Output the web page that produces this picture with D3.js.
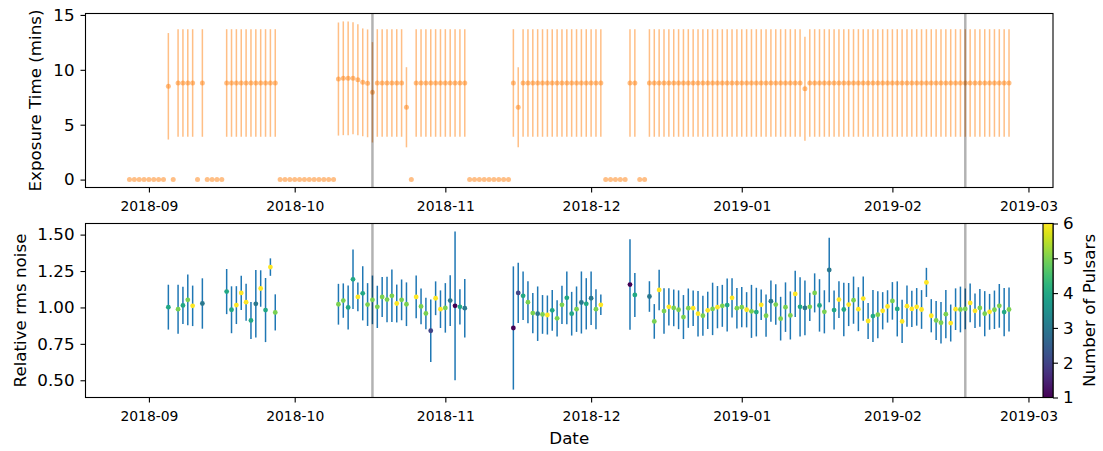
<!DOCTYPE html>
<html>
<head>
<meta charset="utf-8">
<script src="https://cdn.jsdelivr.net/npm/d3@7"></script>
<style>
  body { margin: 0; background: #fff; }
  svg { display: block; }
  text { font-family: "DejaVu Sans", sans-serif; fill: #000; }
</style>
</head>
<body>
<svg id="chart" width="1103" height="451"></svg>
<script>
// ---- Exposure log: one entry per day (minutes, with spread) ----
const expDates = [
  "2018-08-28","2018-08-29","2018-08-30","2018-08-31",
  "2018-09-01","2018-09-02","2018-09-03","2018-09-04","2018-09-05","2018-09-06","2018-09-07","2018-09-08","2018-09-09","2018-09-10",
  "2018-09-11","2018-09-12","2018-09-13","2018-09-14","2018-09-15","2018-09-16","2018-09-17","2018-09-18","2018-09-19","2018-09-20",
  "2018-09-21","2018-09-22","2018-09-23","2018-09-24","2018-09-25","2018-09-26","2018-09-27","2018-09-28","2018-09-29","2018-09-30",
  "2018-10-01","2018-10-02","2018-10-03","2018-10-04","2018-10-05","2018-10-06","2018-10-07","2018-10-08","2018-10-09","2018-10-10",
  "2018-10-11","2018-10-12","2018-10-13","2018-10-14","2018-10-15","2018-10-16","2018-10-17","2018-10-18","2018-10-19","2018-10-20",
  "2018-10-21","2018-10-22","2018-10-23","2018-10-24","2018-10-25","2018-10-26","2018-10-27","2018-10-28","2018-10-29","2018-10-30","2018-10-31",
  "2018-11-01","2018-11-02","2018-11-03","2018-11-04","2018-11-05","2018-11-06","2018-11-07","2018-11-08","2018-11-09","2018-11-10",
  "2018-11-11","2018-11-12","2018-11-13","2018-11-14","2018-11-15","2018-11-16","2018-11-17","2018-11-18","2018-11-19","2018-11-20",
  "2018-11-21","2018-11-22","2018-11-23","2018-11-24","2018-11-25","2018-11-26","2018-11-27","2018-11-28","2018-11-29","2018-11-30",
  "2018-12-01","2018-12-02","2018-12-03","2018-12-04","2018-12-05","2018-12-06","2018-12-07","2018-12-08","2018-12-09","2018-12-10",
  "2018-12-11","2018-12-12","2018-12-13","2018-12-14","2018-12-15","2018-12-16","2018-12-17","2018-12-18","2018-12-19","2018-12-20",
  "2018-12-21","2018-12-22","2018-12-23","2018-12-24","2018-12-25","2018-12-26","2018-12-27","2018-12-28","2018-12-29","2018-12-30","2018-12-31",
  "2019-01-01","2019-01-02","2019-01-03","2019-01-04","2019-01-05","2019-01-06","2019-01-07","2019-01-08","2019-01-09","2019-01-10",
  "2019-01-11","2019-01-12","2019-01-13","2019-01-14","2019-01-15","2019-01-16","2019-01-17","2019-01-18","2019-01-19","2019-01-20",
  "2019-01-21","2019-01-22","2019-01-23","2019-01-24","2019-01-25","2019-01-26","2019-01-27","2019-01-28","2019-01-29","2019-01-30","2019-01-31",
  "2019-02-01","2019-02-02","2019-02-03","2019-02-04","2019-02-05","2019-02-06","2019-02-07","2019-02-08","2019-02-09","2019-02-10",
  "2019-02-11","2019-02-12","2019-02-13","2019-02-14","2019-02-15","2019-02-16","2019-02-17","2019-02-18","2019-02-19","2019-02-20",
  "2019-02-21","2019-02-22","2019-02-23","2019-02-24","2019-02-25"
];
const expMinutes = [
  0,0,0,0,
  0,0,0,0,8.5,0,8.8,8.8,8.8,8.8,
  0,8.8,0,0,0,0,8.8,8.8,8.8,8.8,
  8.8,8.8,8.8,8.8,8.8,8.8,8.8,0,0,0,
  0,0,0,0,0,0,0,0,0,9.16,
  9.23,9.23,9.23,9.1,8.86,8.77,7.95,8.8,8.8,8.8,
  8.8,8.8,8.8,6.59,0,8.8,8.8,8.8,8.8,8.8,8.8,
  8.8,8.8,8.8,8.8,8.8,0,0,0,0,0,
  0,0,0,0,8.8,6.59,8.8,8.8,8.8,8.8,
  8.8,8.8,8.8,8.8,8.8,8.8,8.8,8.8,8.8,8.8,
  8.8,8.8,8.8,0,0,0,0,0,8.8,8.8,
  0,0,8.8,8.8,8.8,8.8,8.8,8.8,8.8,8.8,
  8.8,8.8,8.8,8.8,8.8,8.8,8.8,8.8,8.8,8.8,8.8,
  8.8,8.8,8.8,8.8,8.8,8.8,8.8,8.8,8.8,8.8,
  8.8,8.8,8.8,8.28,8.8,8.8,8.8,8.8,8.8,8.8,
  8.8,8.8,8.8,8.8,8.8,8.8,8.8,8.8,8.8,8.8,8.8,
  8.8,8.8,8.8,8.8,8.8,8.8,8.8,8.8,8.8,8.8,
  8.8,8.8,8.8,8.8,8.8,8.8,8.8,8.8,8.8,8.8,
  8.8,8.8,8.8,8.8,8.8
];
const expSpread = [
  0,0,0,0,
  0,0,0,0,4.85,0,4.9,4.9,4.9,4.9,
  0,4.9,0,0,0,0,4.9,4.9,4.9,4.9,
  4.9,4.9,4.9,4.9,4.9,4.9,4.9,0,0,0,
  0,0,0,0,0,0,0,0,0,5.15,
  5.18,5.18,5.1,5.06,4.91,4.91,4.57,4.9,4.9,4.9,
  4.9,4.9,4.9,3.65,0,4.9,4.9,4.9,4.9,4.9,4.9,
  4.9,4.9,4.9,4.9,4.9,0,0,0,0,0,
  0,0,0,0,4.9,3.65,4.9,4.9,4.9,4.9,
  4.9,4.9,4.9,4.9,4.9,4.9,4.9,4.9,4.9,4.9,
  4.9,4.9,4.9,0,0,0,0,0,4.9,4.9,
  0,0,4.9,4.9,4.9,4.9,4.9,4.9,4.9,4.9,
  4.9,4.9,4.9,4.9,4.9,4.9,4.9,4.9,4.9,4.9,4.9,
  4.9,4.9,4.9,4.9,4.9,4.9,4.9,4.9,4.9,4.9,
  4.9,4.9,4.9,4.74,4.9,4.9,4.9,4.9,4.9,4.9,
  4.9,4.9,4.9,4.9,4.9,4.9,4.9,4.9,4.9,4.9,4.9,
  4.9,4.9,4.9,4.9,4.9,4.9,4.9,4.9,4.9,4.9,
  4.9,4.9,4.9,4.9,4.9,4.9,4.9,4.9,4.9,4.9,
  4.9,4.9,4.9,4.9,4.9
];

// ---- Relative rms noise per observing day ----
const noiseDates = [
  "2018-09-05","2018-09-07","2018-09-08","2018-09-09","2018-09-10","2018-09-12",
  "2018-09-17","2018-09-18","2018-09-19","2018-09-20","2018-09-21","2018-09-22","2018-09-23","2018-09-24","2018-09-25","2018-09-26","2018-09-27",
  "2018-10-10","2018-10-11","2018-10-12","2018-10-13","2018-10-14","2018-10-15","2018-10-16","2018-10-17","2018-10-18","2018-10-19",
  "2018-10-20","2018-10-21","2018-10-22","2018-10-23","2018-10-24",
  "2018-10-26","2018-10-27","2018-10-28","2018-10-29","2018-10-30","2018-10-31","2018-11-01","2018-11-02","2018-11-03","2018-11-04","2018-11-05",
  "2018-11-15","2018-11-16","2018-11-17","2018-11-18","2018-11-19","2018-11-20","2018-11-21","2018-11-22","2018-11-23","2018-11-24",
  "2018-11-25","2018-11-26","2018-11-27","2018-11-28","2018-11-29","2018-11-30","2018-12-01","2018-12-02","2018-12-03",
  "2018-12-09","2018-12-10",
  "2018-12-13","2018-12-14","2018-12-15","2018-12-16","2018-12-17","2018-12-18","2018-12-19","2018-12-20","2018-12-21","2018-12-22",
  "2018-12-23","2018-12-24","2018-12-25","2018-12-26","2018-12-27","2018-12-28","2018-12-29","2018-12-30","2018-12-31",
  "2019-01-01","2019-01-02","2019-01-03","2019-01-04","2019-01-05","2019-01-06","2019-01-07","2019-01-08","2019-01-09","2019-01-10",
  "2019-01-11","2019-01-12","2019-01-13","2019-01-14","2019-01-15","2019-01-16","2019-01-17","2019-01-18","2019-01-19","2019-01-20",
  "2019-01-21","2019-01-22","2019-01-23","2019-01-24","2019-01-25","2019-01-26","2019-01-27","2019-01-28","2019-01-29","2019-01-30","2019-01-31",
  "2019-02-01","2019-02-02","2019-02-03","2019-02-04","2019-02-05","2019-02-06","2019-02-07","2019-02-08","2019-02-09","2019-02-10",
  "2019-02-11","2019-02-12","2019-02-13","2019-02-14","2019-02-15","2019-02-16","2019-02-17","2019-02-18","2019-02-19","2019-02-20",
  "2019-02-21","2019-02-22","2019-02-23","2019-02-24","2019-02-25"
];
const noiseRel = [
  1.002,0.988,1.014,1.052,1.011,1.027,
  1.109,0.984,1.016,1.100,1.036,0.911,1.025,1.130,0.982,1.277,0.966,
  1.022,1.047,1.000,1.193,1.072,1.097,1.020,1.052,1.004,1.072,
  1.054,1.080,1.027,1.052,1.022,
  1.072,1.007,0.959,0.840,1.063,0.988,0.997,1.047,1.011,1.004,0.995,
  0.859,1.100,1.080,1.036,0.961,0.957,0.952,0.948,0.980,0.925,
  1.018,1.066,0.957,0.988,1.034,1.025,1.063,0.988,1.018,
  1.157,1.086,
  1.075,0.904,1.120,0.975,1.004,0.997,0.984,0.934,0.995,0.995,
  0.957,0.943,0.980,0.990,1.002,1.011,1.016,1.066,0.995,
  1.002,0.984,0.973,0.968,1.018,0.943,1.043,1.020,0.923,1.002,
  0.945,1.093,1.004,0.997,1.004,1.100,1.014,0.970,1.257,0.982,
  1.054,0.986,1.020,1.050,0.988,1.061,0.907,0.941,0.950,0.977,1.007,
  1.045,0.990,0.904,1.009,0.990,1.004,0.986,1.172,0.943,0.911,
  0.895,0.954,0.893,0.988,0.986,0.990,1.031,0.977,0.997,0.957,
  0.970,0.984,1.011,0.968,0.986
];
const noiseErr = [
  0.154,0.168,0.128,0.174,0.139,0.173,
  0.155,0.161,0.130,0.117,0.127,0.127,0.232,0.125,0.220,0.060,0.124,
  0.140,0.118,0.151,0.204,0.099,0.186,0.147,0.167,0.145,0.137,
  0.156,0.180,0.130,0.140,0.150,
  0.147,0.123,0.108,0.215,0.116,0.129,0.170,0.174,0.511,0.121,0.201,
  0.423,0.207,0.167,0.144,0.139,0.187,0.133,0.134,0.140,0.125,
  0.131,0.181,0.150,0.156,0.213,0.176,0.184,0.137,0.070,
  0.311,0.151,
  0.105,0.119,0.139,0.156,0.128,0.126,0.133,0.151,0.135,0.122,
  0.156,0.137,0.128,0.180,0.145,0.144,0.182,0.135,0.139,
  0.138,0.121,0.182,0.167,0.105,0.145,0.142,0.139,0.150,0.170,
  0.165,0.159,0.203,0.188,0.097,0.134,0.180,0.148,0.221,0.134,
  0.126,0.184,0.148,0.162,0.151,0.152,0.124,0.179,0.161,0.128,0.111,
  0.129,0.189,0.148,0.142,0.125,0.129,0.133,0.100,0.114,0.134,
  0.143,0.165,0.127,0.143,0.157,0.140,0.133,0.119,0.130,0.155,
  0.123,0.132,0.150,0.165,0.151
];
const noisePulsars = [
  4,5,4,5,6,3,
  4,4,6,6,6,4,3,6,4,6,5,
  5,5,4,4,6,4,5,5,5,5,
  5,5,6,5,5,
  6,5,5,2,6,6,5,3,1,4,3,
  1,2,4,5,5,3,5,6,4,5,
  5,4,4,5,3,4,3,5,6,
  1,4,
  3,5,6,5,6,5,5,5,5,6,
  6,5,6,5,6,5,4,6,5,
  5,6,5,4,6,5,3,5,5,5,
  5,6,4,3,5,5,4,5,3,4,
  6,4,6,5,6,6,6,4,5,6,6,
  5,4,6,6,6,6,6,6,6,5,
  5,5,6,6,5,5,6,6,5,5,
  6,5,5,4,5
];

// ---- Axis ticks and reference days ----
const monthTicks = ["2018-09","2018-10","2018-11","2018-12","2019-01","2019-02","2019-03"];
const expTicks = [0, 5, 10, 15];
const noiseTicks = [0.50, 0.75, 1.00, 1.25, 1.50];
const pulsarTicks = [1, 2, 3, 4, 5, 6];
const markerDays = ["2018-10-17", "2019-02-16"];

// ---- Layout ----
const svg = d3.select("#chart");
const left = 85.5, right = 1053;
const topPanel = { top: 13.5, bottom: 187.5 };
const botPanel = { top: 223.5, bottom: 397.5 };
const cbar = { x0: 1043, x1: 1053 };

const parseDay = d3.utcParse("%Y-%m-%d");
const parseMonth = d3.utcParse("%Y-%m");
const fmtMonth = d3.utcFormat("%Y-%m");

const eDates = expDates.map(parseDay);
const nDates = noiseDates.map(parseDay);

// x limits padded by 5% of the data span on each side
const allDates = eDates.concat(nDates);
const tMin = d3.min(allDates), tMax = d3.max(allDates);
const tPad = (tMax - tMin) * 0.05;
const x = d3.scaleUtc()
  .domain([new Date(+tMin - tPad), new Date(+tMax + tPad)])
  .range([left, right]);

function paddedExtent(lo, hi) {
  const p = (hi - lo) * 0.05;
  return [lo - p, hi + p];
}

const yExp = d3.scaleLinear()
  .domain(paddedExtent(
    d3.min(expMinutes, (v, i) => v - expSpread[i]),
    d3.max(expMinutes, (v, i) => v + expSpread[i])))
  .range([topPanel.bottom, topPanel.top]);

const yNoise = d3.scaleLinear()
  .domain(paddedExtent(
    d3.min(noiseRel, (v, i) => v - noiseErr[i]),
    d3.max(noiseRel, (v, i) => v + noiseErr[i])))
  .range([botPanel.bottom, botPanel.top]);

const color = d3.scaleSequential(d3.interpolateViridis).domain([1, 6]);

function styleAxis(g, size) {
  g.select(".domain").remove();
  g.selectAll(".tick line").attr("stroke", "#000").attr("stroke-width", 1.1);
  g.selectAll(".tick text")
    .attr("font-family", "DejaVu Sans, sans-serif")
    .attr("font-size", size)
    .attr("fill", "#000");
}

function drawXAxis(panel) {
  const g = svg.append("g")
    .attr("transform", `translate(0,${panel.bottom})`)
    .call(d3.axisBottom(x)
      .tickValues(monthTicks.map(parseMonth))
      .tickFormat(fmtMonth)
      .tickSize(5)
      .tickPadding(8.5));
  styleAxis(g, 13.9);
}

// ---------- Top panel: exposure time ----------
const expLayer = svg.append("g");
const expIdx = d3.range(expMinutes.length);

expLayer.append("g").selectAll("line")
  .data(expIdx.filter(i => expSpread[i] > 0))
  .join("line")
  .attr("x1", i => x(eDates[i])).attr("x2", i => x(eDates[i]))
  .attr("y1", i => yExp(expMinutes[i] - expSpread[i]))
  .attr("y2", i => yExp(expMinutes[i] + expSpread[i]))
  .attr("stroke", "#ff7f0e").attr("stroke-opacity", 0.5)
  .attr("stroke-width", 1.5);

expLayer.append("g").selectAll("circle")
  .data(expIdx)
  .join("circle")
  .attr("cx", i => x(eDates[i]))
  .attr("cy", i => yExp(expMinutes[i]))
  .attr("r", 2.5)
  .attr("fill", "#ff7f0e").attr("fill-opacity", 0.5);

expLayer.append("g").selectAll("line")
  .data(markerDays.map(parseDay))
  .join("line")
  .attr("x1", d => x(d)).attr("x2", d => x(d))
  .attr("y1", topPanel.top).attr("y2", topPanel.bottom)
  .attr("stroke", "#000").attr("stroke-opacity", 0.3).attr("stroke-width", 2.5);

styleAxis(svg.append("g")
  .attr("transform", `translate(${left},0)`)
  .call(d3.axisLeft(yExp).tickValues(expTicks).tickFormat(d3.format("d")).tickSize(5).tickPadding(6)), 16.7);
drawXAxis(topPanel);

svg.append("rect")
  .attr("x", left).attr("y", topPanel.top)
  .attr("width", right - left).attr("height", topPanel.bottom - topPanel.top)
  .attr("fill", "none").attr("stroke", "#000").attr("stroke-width", 1.1);

svg.append("text")
  .attr("transform", `translate(40.5,${(topPanel.top + topPanel.bottom) / 2}) rotate(-90)`)
  .attr("text-anchor", "middle").attr("font-size", 16.7)
  .text("Exposure Time (mins)");

// ---------- Bottom panel: relative rms noise ----------
const noiseLayer = svg.append("g");
const nIdx = d3.range(noiseRel.length);

noiseLayer.append("g").selectAll("line")
  .data(nIdx)
  .join("line")
  .attr("x1", i => x(nDates[i])).attr("x2", i => x(nDates[i]))
  .attr("y1", i => yNoise(noiseRel[i] - noiseErr[i]))
  .attr("y2", i => yNoise(noiseRel[i] + noiseErr[i]))
  .attr("stroke", "#1f77b4").attr("stroke-width", 1.5);

noiseLayer.append("g").selectAll("line")
  .data(markerDays.map(parseDay))
  .join("line")
  .attr("x1", d => x(d)).attr("x2", d => x(d))
  .attr("y1", botPanel.top).attr("y2", botPanel.bottom)
  .attr("stroke", "#000").attr("stroke-opacity", 0.3).attr("stroke-width", 2.5);

noiseLayer.append("g").selectAll("circle")
  .data(nIdx)
  .join("circle")
  .attr("cx", i => x(nDates[i]))
  .attr("cy", i => yNoise(noiseRel[i]))
  .attr("r", 2.4)
  .attr("fill", i => color(noisePulsars[i]));

styleAxis(svg.append("g")
  .attr("transform", `translate(${left},0)`)
  .call(d3.axisLeft(yNoise).tickValues(noiseTicks).tickFormat(d3.format(".2f")).tickSize(5).tickPadding(6)), 16.7);
drawXAxis(botPanel);

svg.append("rect")
  .attr("x", left).attr("y", botPanel.top)
  .attr("width", right - left).attr("height", botPanel.bottom - botPanel.top)
  .attr("fill", "none").attr("stroke", "#000").attr("stroke-width", 1.1);

svg.append("text")
  .attr("transform", `translate(26,${(botPanel.top + botPanel.bottom) / 2}) rotate(-90)`)
  .attr("text-anchor", "middle").attr("font-size", 16.7)
  .text("Relative rms noise");

svg.append("text")
  .attr("x", (left + right) / 2).attr("y", 444)
  .attr("text-anchor", "middle").attr("font-size", 16.7)
  .text("Date");

// ---------- Colour bar ----------
const grad = svg.append("defs").append("linearGradient")
  .attr("id", "viridis-bar").attr("x1", 0).attr("y1", 1).attr("x2", 0).attr("y2", 0);
grad.selectAll("stop")
  .data(d3.range(0, 1.0001, 0.05))
  .join("stop")
  .attr("offset", t => t)
  .attr("stop-color", t => d3.interpolateViridis(t));

svg.append("rect")
  .attr("x", cbar.x0).attr("y", botPanel.top)
  .attr("width", cbar.x1 - cbar.x0).attr("height", botPanel.bottom - botPanel.top)
  .attr("fill", "url(#viridis-bar)")
  .attr("stroke", "#000").attr("stroke-width", 1.1);

const cScale = d3.scaleLinear().domain([1, 6]).range([botPanel.bottom, botPanel.top]);
styleAxis(svg.append("g")
  .attr("transform", `translate(${cbar.x1},0)`)
  .call(d3.axisRight(cScale).tickValues(pulsarTicks).tickFormat(d3.format("d")).tickSize(5).tickPadding(5)), 16.7);

svg.append("text")
  .attr("transform", `translate(1094.5,${(botPanel.top + botPanel.bottom) / 2}) rotate(-90)`)
  .attr("text-anchor", "middle").attr("font-size", 16.7)
  .text("Number of Pulsars");
</script>
</body>
</html>
